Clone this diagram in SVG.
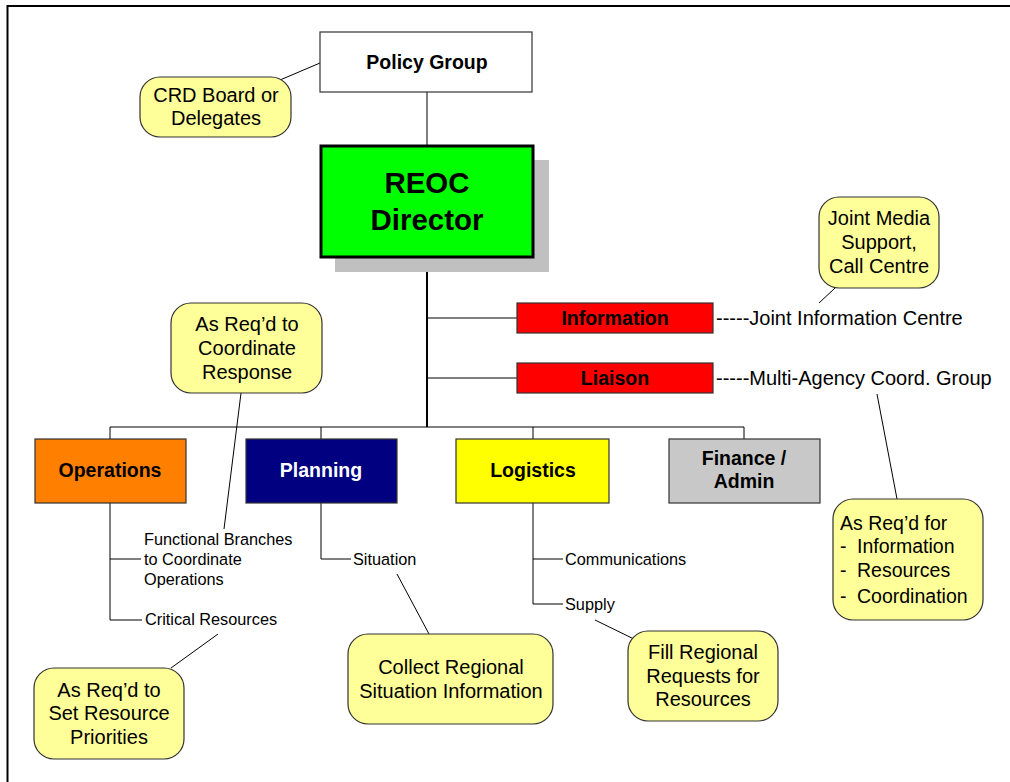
<svg xmlns="http://www.w3.org/2000/svg" width="1010" height="782" viewBox="0 0 1010 782">
  <style>
    text { font-family: "Liberation Sans", Arial, Helvetica, sans-serif; fill: #000; }
    .b { font-weight: bold; }
    .c { text-anchor: middle; }
    .box { stroke: #333; stroke-width: 1.2; }
    .call { fill: #ffff99; stroke: #333; stroke-width: 1.2; }
    .ln { stroke: #000; stroke-width: 1; fill: none; }
    .trunk { stroke: #000; stroke-width: 2; fill: none; }
    .f20 { font-size: 20px; }
    .f19 { font-size: 19.5px; }
    .fr { font-size: 19.5px; }
    .f16 { font-size: 16.3px; }
  </style>

  <rect width="1010" height="782" fill="#fff"/>
  <!-- page frame -->
  <path d="M7.5 782 V6 H1010" stroke="#000" stroke-width="2" fill="none"/>

  <!-- connectors -->
  <g id="connectors">
    <line class="ln" x1="427" y1="92" x2="427" y2="146"/>
    <line class="trunk" x1="427" y1="257" x2="427" y2="427"/>
    <line class="ln" x1="427" y1="318" x2="517" y2="318"/>
    <line class="ln" x1="427" y1="378" x2="517" y2="378"/>
    <path class="ln" d="M110 439 V427 H744 V439 M321 427 V439 M533 427 V439"/>
    <!-- sub-branches -->
    <path class="ln" d="M110 503 V620 H142 M110 559 H141"/>
    <path class="ln" d="M321 503 V559 H351"/>
    <path class="ln" d="M533 503 V604 H563 M533 559 H563"/>
    <!-- callout pointers -->
    <line class="ln" x1="280" y1="80" x2="320" y2="63"/>
    <line class="ln" x1="835" y1="288" x2="819" y2="303"/>
    <line class="ln" x1="877" y1="394" x2="897" y2="499"/>
    <line class="ln" x1="241" y1="393" x2="224" y2="529"/>
    <line class="ln" x1="218" y1="634" x2="171" y2="668"/>
    <line class="ln" x1="397" y1="574" x2="429" y2="634"/>
    <line class="ln" x1="595" y1="620" x2="636" y2="640"/>
  </g>

  <g id="policy-group">
    <rect class="box" x="320" y="32" width="212" height="60" fill="#fff"/>
    <text class="b c f19" x="427" y="69">Policy Group</text>
  </g>

  <g id="crd-board">
    <rect class="call" x="140" y="77" width="151" height="60" rx="20"/>
    <text class="c f20" x="216" y="102">CRD Board or</text>
    <text class="c f20" x="216" y="125">Delegates</text>
  </g>

  <g id="reoc-director">
    <rect x="335" y="160" width="214" height="112" fill="#c0c0c0"/>
    <rect x="321" y="146" width="212" height="111" fill="#00ff00" stroke="#000" stroke-width="3"/>
    <text class="b c" x="427" y="193" font-size="29.5">REOC</text>
    <text class="b c" x="427" y="230" font-size="29.5">Director</text>
  </g>

  <g id="information">
    <rect class="box" x="517" y="303" width="196" height="30" fill="#ff0000"/>
    <text class="b c f19" x="615" y="325">Information</text>
    <text class="f20" x="716" y="325">-----Joint Information Centre</text>
  </g>

  <g id="liaison">
    <rect class="box" x="517" y="363" width="196" height="30" fill="#ff0000"/>
    <text class="b c f19" x="615" y="385">Liaison</text>
    <text class="f20" x="716" y="385">-----Multi-Agency Coord. Group</text>
  </g>

  <g id="joint-media">
    <rect class="call" x="819" y="197" width="120" height="91" rx="20"/>
    <text class="c f20" x="879" y="225">Joint Media</text>
    <text class="c f20" x="879" y="249">Support,</text>
    <text class="c f20" x="879" y="273">Call Centre</text>
  </g>

  <g id="coordinate-response">
    <rect class="call" x="171" y="303" width="151" height="90" rx="20"/>
    <text class="c f20" x="247" y="331">As Req’d to</text>
    <text class="c f20" x="247" y="355">Coordinate</text>
    <text class="c f20" x="247" y="379">Response</text>
  </g>

  <g id="operations">
    <rect class="box" x="35" y="439" width="151" height="64" fill="#ff8000"/>
    <text class="b c f19" x="110" y="477">Operations</text>
    <text class="f16" x="144" y="545">Functional Branches</text>
    <text class="f16" x="144" y="565">to Coordinate</text>
    <text class="f16" x="144" y="585">Operations</text>
    <text class="f16" x="145" y="625">Critical Resources</text>
  </g>

  <g id="planning">
    <rect class="box" x="246" y="439" width="151" height="64" fill="#000080"/>
    <text class="b c f19" x="321" y="477" style="fill:#fff">Planning</text>
    <text class="f16" x="353" y="565">Situation</text>
  </g>

  <g id="logistics">
    <rect class="box" x="456" y="439" width="153" height="64" fill="#ffff00"/>
    <text class="b c f19" x="533" y="477">Logistics</text>
    <text class="f16" x="565" y="565">Communications</text>
    <text class="f16" x="565" y="610">Supply</text>
  </g>

  <g id="finance-admin">
    <rect class="box" x="669" y="439" width="151" height="64" fill="#c8c8c8"/>
    <text class="b c f19" x="744" y="465">Finance /</text>
    <text class="b c f19" x="744" y="488">Admin</text>
  </g>

  <g id="multi-agency-note">
    <rect class="call" x="833" y="499" width="150" height="121" rx="20"/>
    <text class="fr" x="840" y="530">As Req’d for</text>
    <text class="fr" x="840" y="553">-</text>
    <text class="fr" x="857" y="553">Information</text>
    <text class="fr" x="840" y="577">-</text>
    <text class="fr" x="857" y="577">Resources</text>
    <text class="fr" x="840" y="603">-</text>
    <text class="fr" x="857" y="603">Coordination</text>
  </g>

  <g id="resource-priorities">
    <rect class="call" x="34" y="668" width="150" height="91" rx="20"/>
    <text class="c f20" x="109" y="697">As Req’d to</text>
    <text class="c f20" x="109" y="720">Set Resource</text>
    <text class="c f20" x="109" y="744">Priorities</text>
  </g>

  <g id="collect-situation">
    <rect class="call" x="348" y="634" width="205" height="90" rx="20"/>
    <text class="c f20" x="451" y="674">Collect Regional</text>
    <text class="c f20" x="451" y="698">Situation Information</text>
  </g>

  <g id="fill-requests">
    <rect class="call" x="628" y="631" width="150" height="90" rx="20"/>
    <text class="c f20" x="703" y="659">Fill Regional</text>
    <text class="c f20" x="703" y="683">Requests for</text>
    <text class="c f20" x="703" y="706">Resources</text>
  </g>
</svg>
